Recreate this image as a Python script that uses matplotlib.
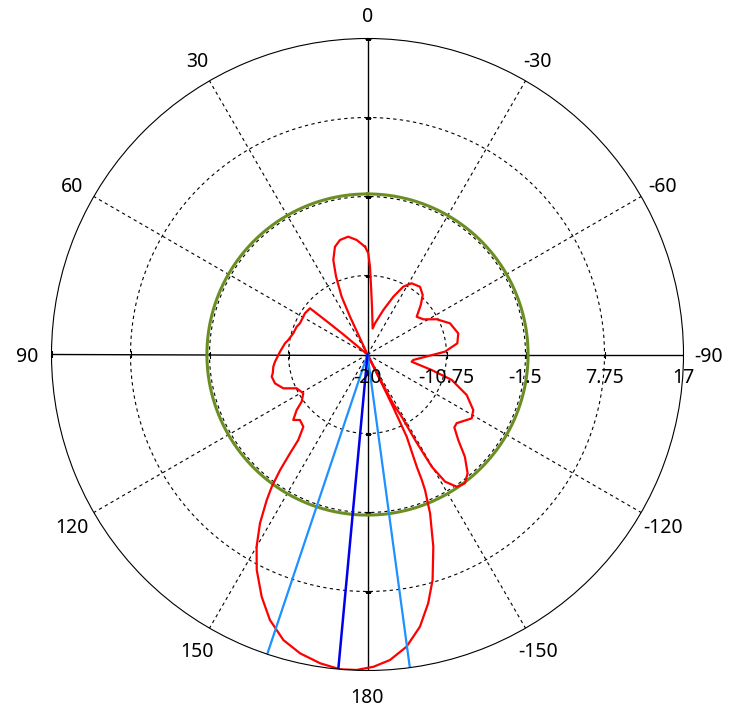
import numpy as np
import matplotlib
matplotlib.use("Agg")
import matplotlib.pyplot as plt

plt.rcParams['font.family'] = ['Noto Sans', 'DejaVu Sans']

# 讀圖得到的方向圖資料 (角度: 逆時針, 0 在上方; 單位 dB)
angles_deg = [1.3, 5.4, 9.3, 13.5, 16.8, 19.9, 22.0, 24.1, 24.8, 25.5,
              49.5, 50.3, 50.8, 51.2, 56.6, 65.2, 68.6, 74.1, 79.6, 82.3,
              88.2, 94.5, 97.4, 101.2, 103.0, 107.3, 111.9, 115.5, 121.1, 125.6,
              128.1, 131.4, 134.1, 138.4, 141.0, 141.9, 142.9, 144.1, 145.3, 147.5,
              150.0, 152.8, 156.4, 159.8, 163.6, 167.3, 171.3, 175.0, 178.0, 181.1,
              184.2, 187.6, 190.9, 193.7, 196.1, 198.9, 201.5, 203.0, 203.4, 203.7,
              205.5, 206.0, 206.3, 206.6, 207.0, 207.5, 208.8, 209.1, 209.8, 211.4,
              214.0, 217.1, 220.1, 223.6, 226.7, 230.0, 232.4, 238.5, 242.3, 247.8,
              253.2, 256.4, 260.7, 263.2, 272.1, 277.1, 283.1, 290.7, 297.0, 302.2,
              307.5, 312.9, 317.1, 322.2, 328.2, 332.2, 335.9, 340.4, 346.5, 348.8,
              354.6, 357.0, 358.4, 359.55]
gain_db = [-7.38, -6.53, -6.02, -6.21, -6.82, -8.23, -10.18, -12.59, -15.12, -20.0,
           -20.0, -16.2, -13.9, -11.36, -11.23, -11.29, -11.09, -10.96, -10.57, -10.25,
           -9.75, -9.13, -8.88, -8.69, -8.49, -8.65, -9.38, -10.81, -11.22, -10.52,
           -9.46, -8.41, -8.98, -8.69, -7.12, -5.29, -3.03, -0.88, 0.72, 3.43,
           5.97, 8.37, 10.95, 13.11, 14.86, 15.87, 16.58, 17.0, 16.96, 16.57,
           15.87, 14.52, 12.46, 9.99, 7.48, 3.79, -0.01, -2.76, -4.0, -5.66,
           -9.34, -13.2, -17.0, -20.0, -17.0, -13.5, -11.69, -8.55, -4.86, -2.56,
           -1.32, -1.09, -1.8, -3.47, -5.4, -6.73, -6.82, -5.69, -6.01, -7.46,
           -9.70, -12.27, -14.76, -14.6, -10.92, -9.4, -9.09, -9.67, -10.91, -12.27,
           -12.74, -11.49, -10.5, -9.97, -10.19, -11.02, -12.59, -14.47, -16.24, -16.9,
           -14.4, -12.05, -9.72, -8.15]

level_db = -1.2                    # 綠色圓
beam_peak_deg = 174.7              # 深藍線
beam_edges_deg = [161.5, 187.7]    # 淺藍線

r_min, r_max = -20, 17
ring_values = [-10.75, -1.5, 7.75]
ring_labels = ['-20', '-10.75', '-1.5', '7.75', '17']
ring_label_r = [-20, -10.75, -1.5, 7.75, 17]
angle_ticks = [0, 30, 60, 90, 120, 150, 180, 210, 240, 270, 300, 330]
angle_labels = ['0', '30', '60', '90', '120', '150', '180', '-150', '-120', '-90', '-60', '-30']

W, H = 743, 714
fig = plt.figure(figsize=(W / 100, H / 100), dpi=100)
cx, cy, R = 367.5, 354.5, 316
ax = fig.add_axes([(cx - R) / W, (H - cy - R) / H, 2 * R / W, 2 * R / H], projection='polar')
ax.set_theta_zero_location('N')
ax.set_theta_direction(1)
ax.set_rlim(r_min, r_max)
ax.grid(False)
ax.set_xticks([])
ax.set_yticks([])
ax.spines['polar'].set_color('black')
ax.spines['polar'].set_linewidth(0.8)

full = np.linspace(0, 2 * np.pi, 721)
for rv in ring_values:
    ax.plot(full, np.full_like(full, rv), color='black', lw=0.8, ls=(0, (3, 3)))
for a in angle_ticks:
    t = np.deg2rad(a)
    if a % 90 == 0:
        ax.plot([t, t], [r_min, r_max], color='black', lw=1.0)
    else:
        ax.plot([t, t], [r_min, r_max], color='black', lw=0.8, ls=(0, (3, 3)))

# 軸上的小刻度
for rv in ring_values + [r_max]:
    ax.plot([np.pi / 2, 3 * np.pi / 2], [rv, rv], ls='none', marker='|', ms=4, mew=0.8, color='black')
    ax.plot([0, np.pi], [rv, rv], ls='none', marker='_', ms=4, mew=0.8, color='black')

# 綠色參考圓
ax.plot(full, np.full_like(full, level_db), color='#6b8e23', lw=2.2)

# 紅色方向圖
th = np.deg2rad(angles_deg + angles_deg[:1])
ax.plot(th, gain_db + gain_db[:1], color='red', lw=1.6)

# 波束線
for a in beam_edges_deg:
    ax.plot([np.deg2rad(a)] * 2, [r_min, r_max], color='#1e90ff', lw=1.6)
ax.plot([np.deg2rad(beam_peak_deg)] * 2, [r_min, r_max], color='#0000ee', lw=1.8)

for rv, lab in zip(ring_label_r, ring_labels):
    ax.annotate(lab, xy=(3 * np.pi / 2, rv), xytext=(0, -17), textcoords='offset points',
                ha='center', va='center', fontsize=14, color='black')
for a, lab in zip(angle_ticks, angle_labels):
    ax.annotate(lab, xy=(np.deg2rad(a), 19.9), xytext=(0, -2), textcoords='offset points',
                ha='center', va='center', fontsize=14, color='black', annotation_clip=False)

fig.savefig('out.png', dpi=100)
